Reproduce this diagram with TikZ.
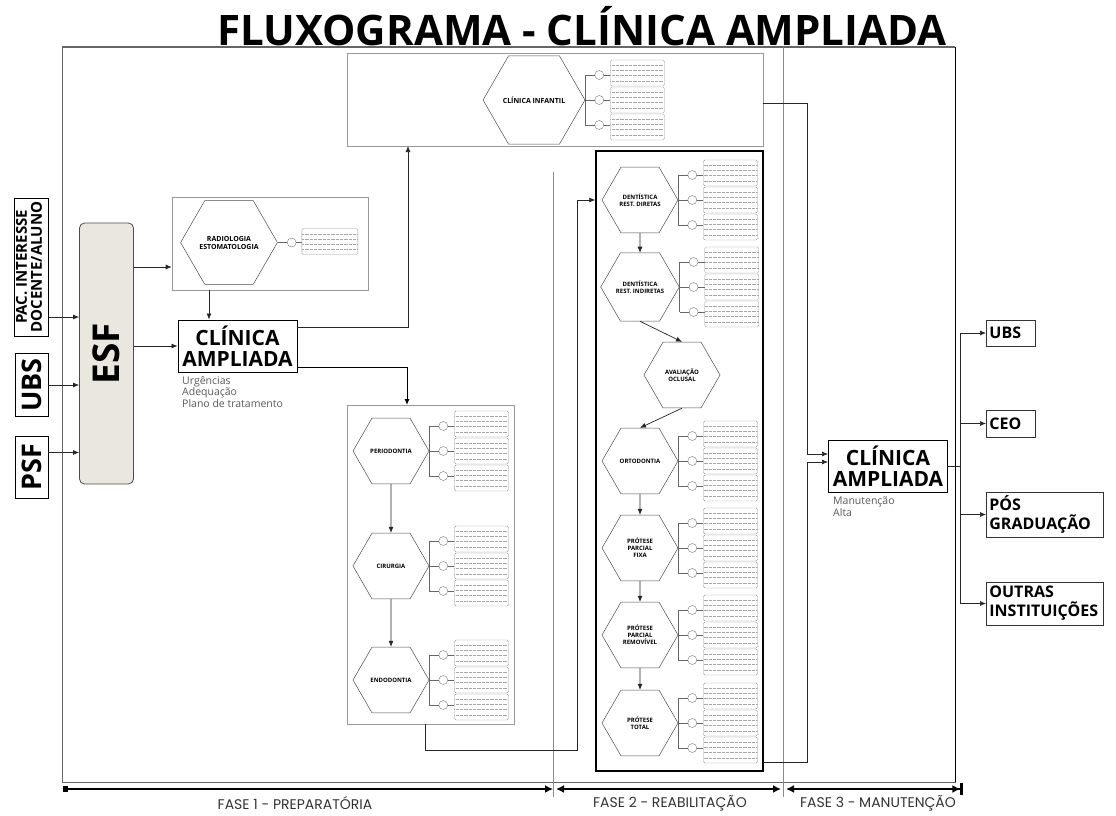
\documentclass[tikz,border=0pt]{standalone}
\usepackage{fontspec}
\setmainfont{Open Sans}
\newfontfamily\phasefont{Poppins}
\usetikzlibrary{shapes.geometric, arrows.meta, calc}
\definecolor{esffill}{HTML}{EAE8DE}
\tikzset{
    hexa/.style={regular polygon, regular polygon sides=6, draw=black!70, line width=0.5pt,
        inner sep=0pt, minimum size=76pt, align=center, font=\fontsize{6}{7}\selectfont\bfseries},
    bighexa/.style={hexa, minimum size=94pt, font=\fontsize{7}{8}\selectfont\bfseries},
    slot/.style={draw=black!40, rounded corners=1.5pt, minimum width=54pt, minimum height=26pt,
        inner sep=0pt, anchor=west,
        path picture={
            \foreach \f in {0.2,0.4,0.6,0.8}
                \draw[black!35, densely dotted, line width=0.3pt]
                    ($(path picture bounding box.south west)!\f!(path picture bounding box.north west)$) --
                    ($(path picture bounding box.south east)!\f!(path picture bounding box.north east)$);
        }},
    tag/.style={circle, draw=black!55, line width=0.4pt, inner sep=0pt, minimum size=9pt},
    twig/.style={draw=black!60, line width=0.5pt},
    panel/.style={draw=black!40, line width=0.6pt, inner sep=0pt},
    inbox/.style={draw=black, line width=0.9pt, inner sep=0pt},
    esfbox/.style={draw=black!70, fill=esffill, line width=0.8pt, rounded corners=5pt,
        minimum width=54pt, minimum height=261pt, font=\fontsize{37}{40}\selectfont\bfseries},
    clinbox/.style={draw=black, line width=1pt, align=center, inner sep=2pt,
        minimum width=119pt, minimum height=52pt, font=\fontsize{21}{21}\selectfont\bfseries},
    outbox/.style={draw=black!80, line width=0.8pt, anchor=west, align=left, inner sep=3pt,
        minimum height=26pt, font=\fontsize{16}{19}\selectfont\bfseries},
    note/.style={anchor=north west, align=left, inner sep=0pt, text=black!65,
        font=\fontsize{10.5}{11.5}\selectfont},
    arr/.style={-{Latex[length=6pt,width=5pt]}, draw=black!85, line width=0.7pt},
    divider/.style={draw=black!45, line width=0.6pt},
    phase/.style={line width=2.6pt},
    phaselabel/.style={text=black!80, font=\phasefont\fontsize{14}{16}\selectfont}
}

\begin{document}
\begin{tikzpicture}[x=1pt, y=-1pt]
    \useasboundingbox (0,0) rectangle (1116,816);

    % title and frame
    \node[font=\fontsize{42}{45}\selectfont\bfseries] (title) at (582,26) {FLUXOGRAMA - CLÍNICA AMPLIADA};
    \draw[black!60, line width=0.9pt] (62,47) rectangle (955,782);
    \draw[black!60, line width=1.6pt] (62,47) -- (955,47);
    \draw[black, line width=1pt] (955,47) -- (955,782);
    \draw[divider] (553,172) -- (553,797);
    \draw[divider] (783,47) -- (783,797);

    % panels
    \node[panel, minimum width=196pt, minimum height=93pt] (radpanel) at (270,243.5) {};
    \node[panel, minimum width=416pt, minimum height=93pt] (infpanel) at (555,99.5) {};
    \node[panel, minimum width=167pt, minimum height=319pt] (perpanel) at (430.5,564.5) {};
    \node[draw=black, line width=1.4pt, inner sep=0pt, minimum width=167pt, minimum height=620pt] (rehpanel) at (679.5,461) {};

    % entries
    \node[inbox, minimum width=34pt, minimum height=138pt, font=\fontsize{15}{13.5}\selectfont\bfseries] (pac) at (31,267)
        {\rotatebox{90}{\begin{tabular}{@{}c@{}}PAC. INTERESSE\\DOCENTE/ALUNO\end{tabular}}};
    \node[inbox, minimum width=33pt, minimum height=63pt, font=\fontsize{27}{30}\selectfont\bfseries] (ubs) at (31.5,385)
        {\rotatebox{90}{UBS}};
    \node[inbox, minimum width=33pt, minimum height=62pt, font=\fontsize{27}{30}\selectfont\bfseries] (psf) at (31.5,467.5)
        {\rotatebox{90}{PSF}};
    \node[esfbox] (esf) at (106.5,353.5) {\rotatebox{90}{ESF}};

    % clinica ampliada
    \node[clinbox] (clinA) at (237.5,346) {CLÍNICA\\AMPLIADA};
    \node[note] (notaA) at (182,376) {Urgências\\Adequação\\Plano de tratamento};
    \node[clinbox] (clinB) at (888,466.5) {CLÍNICA\\AMPLIADA};
    \node[note] (notaB) at (833,497) {Manutenção\\Alta};

    % exits
    \node[outbox, text width=43pt] (ubsB) at (986,333) {UBS};
    \node[outbox, text width=43pt, minimum height=27pt] (ceo) at (986,423.5) {CEO};
    \node[outbox, text width=111pt, minimum height=45pt] (pos) at (986,514.5) {PÓS\\GRADUAÇÃO};
    \node[outbox, text width=111pt, minimum height=43pt] (outras) at (986,603.5) {OUTRAS\\INSTITUIÇÕES};

    % hexagons
    \node[bighexa] (rad) at (229,242.5) {RADIOLOGIA\\ESTOMATOLOGIA};
    \node[bighexa] (inf) at (534,100) {CLÍNICA INFANTIL};
    \node[hexa] (perio) at (391,451) {PERIODONTIA};
    \node[hexa] (ciru) at (391,566) {CIRURGIA};
    \node[hexa] (endo) at (391,680) {ENDODONTIA};
    \node[hexa] (dird) at (640,200) {DENTÍSTICA\\REST. DIRETAS};
    \node[hexa] (indi) at (640,287) {DENTÍSTICA\\REST. INDIRETAS};
    \node[hexa] (aval) at (682,375) {AVALIAÇÃO\\OCLUSAL};
    \node[hexa] (orto) at (640,461) {ORTODONTIA};
    \node[hexa] (ppf) at (640,548) {PRÓTESE\\PARCIAL\\FIXA};
    \node[hexa] (ppr) at (640,635) {PRÓTESE\\PARCIAL\\REMOVÍVEL};
    \node[hexa] (ptot) at (640,723) {PRÓTESE\\TOTAL};

    % tags and slots
    \node[tag] (trad) at ([xshift=14pt]rad.east) {};
    \node[slot, minimum width=56pt] (srad) at ([xshift=24pt,yshift=1pt]rad.east) {};
    \draw[twig] (rad.east) -- (trad);
    \draw[twig] (trad) -- (trad -| srad.west);
    \foreach \h in {inf,perio,ciru,endo,dird,indi,orto,ppf,ppr,ptot} {
        \draw[twig] ([yshift=25pt]\h.east) -- ([yshift=-25pt]\h.east);
        \foreach \k/\dy/\sy in {1/25/27,2/0/0,3/-25/-27} {
            \node[tag] (t\k\h) at ([xshift=14pt,yshift=\dy pt]\h.east) {};
            \node[slot] (s\k\h) at ([xshift=25pt,yshift=\sy pt]\h.east) {};
            \draw[twig] ([yshift=\dy pt]\h.east) -- (t\k\h);
            \draw[twig] (t\k\h) -- (t\k\h -| s\k\h.west);
        }
    }

    % helper points on borders
    \coordinate (pacOut) at (49,317);
    \coordinate (esfR) at (134,267);
    \coordinate (radDown) at (209,290);
    \coordinate (clinUp) at (297,327);
    \coordinate (clinDown) at (297,367);
    \coordinate (infIn) at (408,146);
    \coordinate (perIn) at (407,405);
    \coordinate (perOut) at (425,724);
    \coordinate (infOut) at (763,103);
    \coordinate (rehOut) at (763,762);
    \coordinate (clinIn1) at (828,454);
    \coordinate (clinIn2) at (828,462);
    \coordinate (rehIn) at (rehpanel.west |- dird);
    \coordinate (hub) at (960,466.5);

    % edges
    \draw[arr] (pacOut) -- (pacOut -| esf.west);
    \draw[arr] (ubs) -- (ubs -| esf.west);
    \draw[arr] ([yshift=15pt]psf.east) -- ([yshift=15pt]psf.east -| esf.west);
    \draw[arr] (esfR) -- (esfR -| radpanel.west);
    \draw[arr] (esf.east |- clinA) -- (clinA.west);
    \draw[arr] (radDown) -- (radDown |- clinA.north);
    \draw[arr] (clinUp) -| (infIn);
    \draw[arr, line width=1pt, draw=black] (clinDown) -| (perIn);
    \foreach \a/\b in {perio/ciru, ciru/endo, dird/indi, indi/aval, aval/orto, orto/ppf, ppf/ppr, ppr/ptot}
        \draw[arr] (\a.south) -- (\b.north);
    \draw[arr] (perOut) -- ++(0,26) -| ([xshift=-18pt]rehIn) -- (rehIn);
    \draw[arr] (infOut) -| ([xshift=-21pt]clinIn1) -- (clinIn1);
    \draw[arr] (rehOut) -| ([xshift=-21pt]clinIn2) -- (clinIn2);
    \draw[twig, draw=black!85, line width=0.7pt] (clinB.east |- hub) -- (hub);
    \draw[twig, draw=black!85, line width=0.7pt] (hub |- ubsB.west) -- (hub |- outras.west);
    \foreach \o in {ubsB,ceo,pos,outras}
        \draw[arr] (hub |- \o.west) -- (\o.west);

    % phases
    \coordinate (f0) at (63,789);
    \coordinate (f1) at (553,789);
    \coordinate (f2) at (783,789);
    \coordinate (f3) at (963,789);
    \draw[phase, {Square[length=5pt,width=6pt]}-{Latex[length=8pt,width=8pt]}] (f0) -- (f1);
    \draw[phase, {Latex[length=8pt,width=8pt]}-{Latex[length=8pt,width=8pt]}] ([xshift=3pt]f1) -- ([xshift=-2pt]f2);
    \draw[phase, {Latex[length=8pt,width=8pt]}-{Latex[length=8pt,width=8pt]Bar[width=12pt]}] ([xshift=3pt]f2) -- (f3);
    \node[phaselabel] (fase1) at (295,803) {FASE 1 - PREPARATÓRIA};
    \node[phaselabel] (fase2) at (670,803) {FASE 2 - REABILITAÇÃO};
    \node[phaselabel] (fase3) at (878,803) {FASE 3 - MANUTENÇÃO};
\end{tikzpicture}
\end{document}
